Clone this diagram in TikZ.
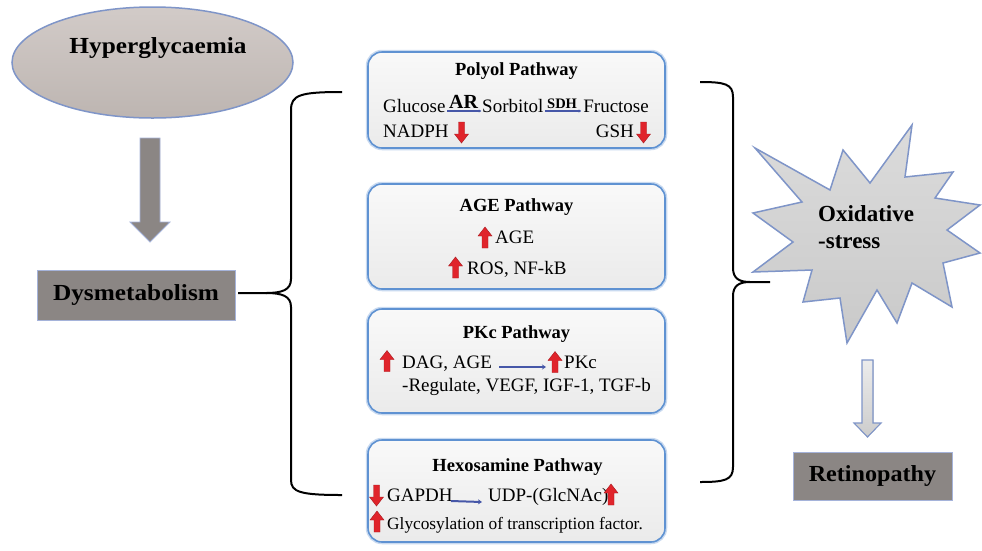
\documentclass[tikz,border=0pt]{standalone}
\usepackage{fontspec}
\setmainfont{Liberation Serif}
\usetikzlibrary{shapes.geometric,arrows.meta}
\definecolor{boxblue}{HTML}{5F92D2}
\definecolor{glow}{HTML}{C9DAF0}
\definecolor{darkgray}{HTML}{8B8684}
\definecolor{lightedge}{HTML}{A5B3DA}
\definecolor{staredge}{HTML}{7F95C8}
\definecolor{redarrow}{HTML}{E0242B}
\definecolor{reddark}{HTML}{A81B20}
\definecolor{bluearrow}{HTML}{4657A8}
\definecolor{elltop}{HTML}{D2CBC8}
\definecolor{ellbot}{HTML}{BDB5B1}
\tikzset{
  txt/.style={inner sep=0pt, font=\fontsize{19}{22}\selectfont},
  ttl/.style={inner sep=0pt, anchor=base, font=\fontsize{18.5}{22}\selectfont\bfseries},
  bigtxt/.style={inner sep=0pt, font=\fontsize{23}{26}\selectfont\bfseries},
  pathbox/.style={draw=boxblue, line width=1.6pt, rounded corners=14pt,
    top color=white!60!gray!12, bottom color=gray!16, minimum width=297pt,
    preaction={draw=glow, line width=4.5pt}},
  darkbox/.style={draw=lightedge, line width=1pt, fill=darkgray, inner sep=0pt},
  bluearr/.style={draw=bluearrow, line width=2pt, -{Stealth[length=4pt,width=5pt]}},
  blueline/.style={draw=bluearrow, line width=1.8pt, -{Stealth[length=2.5pt,width=3pt]}},
  bracel/.style={draw=black, line width=2pt},
  rup/.pic={\filldraw[draw=reddark, fill=redarrow, line width=0.4pt]
    (-3,10.5) -- (-3,-1.5) -- (-7,-1.5) -- (0,-10.5) -- (7,-1.5) -- (3,-1.5) -- (3,10.5) -- cycle;},
  rdown/.pic={\filldraw[draw=reddark, fill=redarrow, line width=0.4pt]
    (-3,-10.5) -- (-3,1.5) -- (-7,1.5) -- (0,10.5) -- (7,1.5) -- (3,1.5) -- (3,-10.5) -- cycle;}
}
\begin{document}
\begin{tikzpicture}[x=1pt,y=-1pt]
\fill[white] (0,0) rectangle (982,550);
\useasboundingbox (0,0) rectangle (982,550);

% ---------- left column ----------
\node[ellipse, draw=staredge, line width=1.5pt, top color=elltop, bottom color=ellbot,
  minimum width=281pt, minimum height=111pt, inner sep=0pt] (hyper) at (152.5,62.5) {};
\node[bigtxt, anchor=base] (hypertxt) at (158,53) {\scalebox{1.1}[1]{Hyperglycaemia}};

\filldraw[draw=lightedge, fill=darkgray, line width=0.8pt]
  (140,138) -- (160,138) -- (160,222) -- (170,222) -- (150,242) -- (130,222) -- (140,222) -- cycle;

\node[darkbox, minimum width=198pt, minimum height=50pt, font=\fontsize{23}{26}\selectfont\bfseries]
  (dys) at (136,295) {\scalebox{1.1}[1]{Dysmetabolism}};

% ---------- left brace ----------
\coordinate (lbtop) at (342,92);
\coordinate (lbbot) at (342,495);
\coordinate (lbtip) at (238,293);
\draw[bracel] (lbtop) .. controls (300,92) and (291,95) .. (291,110) -- (291,279)
  .. controls (291,290) and (282,293) .. (266,293) -- (lbtip);
\draw[bracel] (266,293) .. controls (282,293) and (291,296) .. (291,307) -- (291,480)
  .. controls (291,492) and (300,495) .. (lbbot);

% ---------- pathway boxes ----------
\node[pathbox, minimum height=96pt] (polyol) at (516.5,100) {};
\node[pathbox, minimum height=105pt] (agebox) at (516.5,236.5) {};
\node[pathbox, minimum height=104pt] (pkcbox) at (516.5,361) {};
\node[pathbox, minimum height=102pt] (hexbox) at (516.5,491) {};

% Polyol
\node[ttl] (t1) at (516.5,75) {Polyol Pathway};
\node[txt, anchor=base west] (glu) at (383,112.5) {Glucose};
\node[txt, anchor=base west, font=\fontsize{20}{22}\selectfont\bfseries] (ar) at (449,108) {AR};
\node[txt, anchor=base west] (sor) at (482,112.5) {Sorbitol};
\node[txt, anchor=base west, font=\fontsize{14.5}{17}\selectfont\bfseries] (sdh) at (547,108) {SDH};
\node[txt, anchor=base east] (fru) at (649,112.5) {Fructose};
\draw[blueline] ([xshift=-2pt,yshift=-3pt]ar.base west) -- ([xshift=3pt,yshift=-3pt]ar.base east);
\draw[blueline] ([xshift=-2pt,yshift=-3pt]sdh.base west) -- ([xshift=4pt,yshift=-3pt]sdh.base east);
\node[txt, anchor=base west] (nadph) at (383,137.5) {NADPH};
\pic at (461.5,132.5) {rdown};
\node[txt, anchor=base east] (gsh) at (634,137.5) {GSH};
\pic at (643.5,132.5) {rdown};

% AGE
\node[ttl] (t2) at (516.5,211.5) {AGE Pathway};
\pic at (485,237.5) {rup};
\node[txt, anchor=base west] (age) at (495,243) {AGE};
\pic at (455.5,267.5) {rup};
\node[txt, anchor=base west] (ros) at (467,274) {ROS, NF-kB};

% PKc
\node[ttl] (t3) at (516.5,338) {PKc Pathway};
\pic at (387,361) {rup};
\node[txt, anchor=base west] (dag) at (402,368) {DAG, AGE};
\node[txt, anchor=base west] (pkc) at (564,368) {PKc};
\draw[bluearr] ([xshift=7pt,yshift=1pt]dag.base east) -- ([xshift=-18pt,yshift=1pt]pkc.base west);
\pic at (555,362) {rup};
\node[txt, anchor=base west] (reg) at (402,391) {-Regulate, VEGF, IGF-1, TGF-b};

% Hexosamine
\node[ttl] (t4) at (517.5,471.5) {Hexosamine Pathway};
\pic at (376.5,495.5) {rdown};
\node[txt, anchor=base west] (gapdh) at (387,501) {GAPDH};
\node[txt, anchor=base west] (udp) at (488,501) {UDP-(GlcNAc)};
\draw[bluearr] ([xshift=-2pt,yshift=0pt]gapdh.base east) -- ([xshift=-6pt,yshift=-1pt]udp.base west);
\pic at (611,494.5) {rup};
\pic at (377,521.5) {rup};
\node[txt, anchor=base west, font=\fontsize{17.3}{20}\selectfont] (gly) at (387,529) {Glycosylation of transcription factor.};

% ---------- right brace ----------
\coordinate (rbtop) at (700,82);
\coordinate (rbbot) at (700,482);
\coordinate (rbtip) at (770,282);
\draw[bracel] (rbtop) .. controls (725,82) and (733,84) .. (733,97) -- (733,268)
  .. controls (733,279) and (740,282) .. (750,282) -- (rbtip);
\draw[bracel] (750,282) .. controls (740,282) and (733,285) .. (733,296) -- (733,467)
  .. controls (733,480) and (725,482) .. (rbbot);

% ---------- oxidative stress star ----------
\filldraw[draw=staredge, line width=1.5pt, top color=gray!28!white, bottom color=gray!42!white]
  (755,148) -- (802,202) -- (753,213) -- (793,242) -- (753,272) -- (812,270) -- (803,302)
  -- (840,298) -- (847,343) -- (877,290) -- (897,323) -- (912,283) -- (952,307) -- (943,263)
  -- (980,253) -- (947,230) -- (980,205) -- (935,198) -- (953,172) -- (905,177) -- (912,125)
  -- (870,183) -- (843,150) -- (830,190) -- cycle;
\node[inner sep=0pt, anchor=base west, font=\fontsize{23}{26}\selectfont\bfseries] (ox1) at (818,221.5) {Oxidative};
\node[inner sep=0pt, anchor=base west, font=\fontsize{23}{26}\selectfont\bfseries] (ox2) at (818,248) {-stress};

% ---------- small arrow and retinopathy ----------
\filldraw[draw=staredge, line width=1.1pt, top color=gray!15!white, bottom color=gray!40!white]
  (862,360) -- (873,360) -- (873,423) -- (881,423) -- (867.5,437) -- (854,423) -- (862,423) -- cycle;
\node[darkbox, minimum width=159pt, minimum height=48pt, font=\fontsize{23}{26}\selectfont\bfseries]
  (ret) at (872.5,476) {\scalebox{1.05}[1]{Retinopathy}};
\end{tikzpicture}
\end{document}
